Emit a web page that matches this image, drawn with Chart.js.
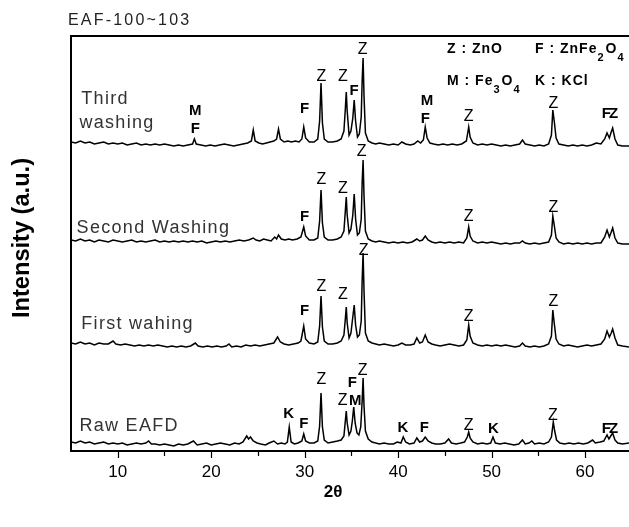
<!DOCTYPE html>
<html><head><meta charset="utf-8">
<script src="https://cdn.jsdelivr.net/npm/chart.js@4.4.1/dist/chart.umd.min.js"></script>
<style>html,body{margin:0;padding:0;background:#fff}#wrap{width:629px;height:527px;position:relative}</style>
</head><body><div id="wrap"><canvas id="c"></canvas></div>
<script>
// ---------------- data ----------------
const chartTitle = 'EAF-100~103';
const xTitle = '2\u03B8';
const yTitle = 'Intensity (a.u.)';
const xMajorTicks = [10, 20, 30, 40, 50, 60];
const xMinorTicks = [15, 25, 35, 45, 55];
const seriesNames = ['Raw EAFD', 'First wahing', 'Second Washing', 'Third washing'];

// [2theta, intensity (a.u., stacked as in the figure)]
const rawEAFD = [[5,9],[5.5,8],[6,10],[6.5,8],[7,9],[7.5,7],[8,8],[8.5,9],[9,7],[9.5,8],[10,7],[10.5,8],[11,6],[11.5,7],[12,8],[12.5,7],[13,8],[13.3,10],[13.6,7],[14,7],[14.5,6],[15,7],[15.5,6],[16,5],[16.5,7],[17,6],[17.5,7],[18.1,10],[18.5,6],[19,7],[19.5,8],[20,6],[20.5,7],[21,8],[21.5,7],[22,6],[22.5,8],[23,7],[23.4,9],[23.8,15],[24.0,12],[24.2,14],[24.5,10],[24.9,8],[25.3,7],[25.8,6],[26.2,8],[26.7,10],[27.1,7],[27.5,8],[27.9,7],[28.15,9],[28.35,24],[28.55,9],[28.9,7],[29.3,8],[29.7,10],[29.9,17],[30.1,10],[30.5,8],[31.0,8],[31.4,10],[31.6,25],[31.75,58],[31.9,24],[32.1,11],[32.5,8],[33,9],[33.5,10],[33.9,11],[34.2,15],[34.35,30],[34.45,40],[34.55,28],[34.75,16],[34.95,20],[35.1,30],[35.25,44],[35.4,28],[35.6,18],[35.8,16],[36.0,24],[36.15,50],[36.25,73],[36.35,45],[36.5,20],[36.8,12],[37.2,9],[37.6,8],[38,7],[38.5,8],[39,7],[39.5,7],[39.9,9],[40.3,8],[40.55,14],[40.8,9],[41.2,7],[41.7,8],[42.0,13],[42.3,9],[42.6,10],[42.9,14],[43.2,10],[43.6,8],[44,7],[44.5,7],[45,8],[45.4,12],[45.7,8],[46.2,7],[46.7,8],[47.1,9],[47.4,14],[47.55,19],[47.7,13],[48,9],[48.5,7],[49,8],[49.5,7],[49.9,8],[50.15,14],[50.4,8],[50.9,7],[51.4,8],[51.9,7],[52.4,6],[52.9,7],[53.3,11],[53.6,7],[54.0,8],[54.3,10],[54.6,7],[55.1,8],[55.6,7],[56.1,9],[56.4,14],[56.6,29],[56.75,20],[56.95,11],[57.3,8],[57.8,7],[58.3,8],[58.8,7],[59.3,8],[59.8,7],[60.3,8],[60.8,11],[61.1,8],[61.6,9],[62.0,10],[62.35,16],[62.55,12],[62.75,15],[62.95,18],[63.2,11],[63.5,8],[64,7],[64.7,8]];

const firstWashing = [[5,108],[5.5,107],[6,109],[6.5,107],[7,108],[7.5,106],[8,108],[8.5,107],[9,107],[9.5,110],[9.8,107],[10.3,106],[10.8,107],[11.3,106],[11.8,105],[12.3,106],[12.8,105],[13.3,106],[13.8,105],[14.3,106],[14.8,105],[15.3,104],[15.8,105],[16.3,104],[16.8,105],[17.3,104],[17.8,105],[18.3,108],[18.6,105],[19.1,104],[19.6,105],[20.1,104],[20.6,105],[21.1,104],[21.6,105],[21.9,107],[22.2,104],[22.7,105],[23.2,104],[23.7,106],[24.2,105],[24.7,106],[25.2,105],[25.7,106],[26.2,107],[26.7,108],[27.1,114],[27.4,109],[27.8,107],[28.3,106],[28.8,107],[29.3,108],[29.6,110],[29.9,125],[30.1,112],[30.5,108],[31,107],[31.4,109],[31.6,125],[31.75,155],[31.9,124],[32.1,110],[32.5,107],[33,107],[33.5,108],[33.9,110],[34.2,116],[34.35,132],[34.45,144],[34.55,128],[34.75,113],[34.95,118],[35.1,130],[35.3,146],[35.45,126],[35.65,114],[35.85,116],[36.05,130],[36.15,170],[36.25,198],[36.35,160],[36.5,118],[36.8,110],[37.2,108],[37.6,107],[38,106],[38.5,107],[39,106],[39.5,105],[40,106],[40.4,108],[40.8,106],[41.3,106],[41.7,107],[42.0,113],[42.3,108],[42.6,109],[42.9,116],[43.2,109],[43.6,107],[44,106],[44.5,105],[45,106],[45.5,107],[46,106],[46.5,105],[47,106],[47.35,111],[47.55,126],[47.7,115],[48,108],[48.5,106],[49,105],[49.5,106],[50,105],[50.5,106],[51,105],[51.5,106],[52,105],[52.5,104],[53,105],[53.3,108],[53.6,105],[54.1,104],[54.6,105],[55.1,104],[55.6,105],[56.1,107],[56.4,115],[56.55,141],[56.7,128],[56.9,112],[57.2,107],[57.7,105],[58.2,106],[58.7,105],[59.2,104],[59.7,105],[60.2,106],[60.7,105],[61.2,106],[61.7,107],[62.1,112],[62.35,120],[62.6,114],[62.8,118],[62.95,122],[63.2,113],[63.5,106],[64,105],[64.7,104]];

const secondWashing = [[5,211],[5.5,210],[6,212],[6.5,210],[7,211],[7.5,209],[8,211],[8.5,210],[9,209],[9.5,211],[10,210],[10.5,209],[11,210],[11.5,211],[12,209],[12.5,210],[13,209],[13.5,210],[14,211],[14.5,209],[15,210],[15.5,209],[16,210],[16.5,209],[17,210],[17.5,209],[18,210],[18.5,209],[19,210],[19.5,208],[20,209],[20.5,210],[21,209],[21.5,210],[22,209],[22.5,210],[23,211],[23.5,210],[24,211],[24.5,213],[24.8,211],[25.2,210],[25.6,212],[26,211],[26.4,210],[26.8,214],[27.0,212],[27.2,216],[27.5,212],[27.9,211],[28.3,212],[28.7,211],[29.2,212],[29.6,214],[29.9,224],[30.1,215],[30.5,211],[31,211],[31.4,213],[31.6,230],[31.75,261],[31.9,228],[32.1,214],[32.5,211],[33,211],[33.5,212],[33.9,214],[34.2,220],[34.35,240],[34.45,254],[34.55,236],[34.75,218],[34.95,222],[35.15,236],[35.3,257],[35.45,232],[35.65,216],[35.85,218],[36.05,232],[36.15,268],[36.25,291],[36.35,255],[36.5,220],[36.8,212],[37.2,210],[37.6,209],[38,210],[38.5,209],[39,208],[39.5,209],[40,208],[40.5,209],[41,208],[41.5,209],[42.0,212],[42.3,210],[42.6,211],[42.9,215],[43.2,211],[43.6,209],[44,208],[44.5,209],[45,208],[45.5,209],[46,208],[46.5,209],[47,208],[47.35,213],[47.55,224],[47.7,215],[48,210],[48.5,208],[49,209],[49.5,208],[50,209],[50.5,208],[51,207],[51.5,208],[52,207],[52.5,208],[53,208],[53.3,210],[53.6,208],[54.1,207],[54.6,208],[55.1,207],[55.6,208],[56.1,209],[56.4,216],[56.55,235],[56.7,226],[56.9,213],[57.2,209],[57.7,207],[58.2,208],[58.7,207],[59.2,208],[59.7,207],[60.2,208],[60.7,207],[61.2,208],[61.7,208],[62.1,214],[62.35,221],[62.6,214],[62.8,219],[62.95,223],[63.2,213],[63.5,208],[64,207],[64.7,207]];

const thirdWashing = [[5,309],[5.5,308],[6,310],[6.5,308],[7,309],[7.5,307],[8,308],[8.5,309],[9,307],[9.5,308],[10,307],[10.5,308],[11,306],[11.5,307],[12,308],[12.5,306],[13,307],[13.5,306],[14,307],[14.5,306],[15,307],[15.5,306],[16,305],[16.5,306],[17,305],[17.5,306],[18.0,307],[18.2,312],[18.4,307],[18.9,306],[19.4,305],[19.9,306],[20.4,305],[20.9,306],[21.4,307],[21.9,306],[22.4,305],[22.9,306],[23.4,307],[23.9,308],[24.3,310],[24.5,321],[24.7,310],[25.1,308],[25.5,307],[25.9,308],[26.3,309],[26.7,310],[27.0,312],[27.2,322],[27.4,312],[27.8,309],[28.2,310],[28.6,309],[29.0,310],[29.4,309],[29.7,312],[29.9,324],[30.1,313],[30.5,309],[31.0,309],[31.4,312],[31.6,330],[31.75,368],[31.9,328],[32.1,312],[32.5,309],[33,309],[33.5,310],[33.9,312],[34.2,320],[34.35,342],[34.45,359],[34.55,340],[34.75,316],[34.95,320],[35.15,333],[35.3,351],[35.45,330],[35.65,314],[35.85,317],[36.05,334],[36.15,370],[36.25,393],[36.35,355],[36.5,318],[36.8,310],[37.2,308],[37.6,307],[38,308],[38.5,307],[39,306],[39.5,307],[40,306],[40.4,309],[40.8,307],[41.3,306],[41.7,307],[42.1,310],[42.4,308],[42.7,311],[42.9,324],[43.1,313],[43.4,308],[43.8,307],[44.3,306],[44.8,307],[45.3,306],[45.8,307],[46.3,306],[46.8,307],[47.3,310],[47.55,324],[47.7,314],[48,308],[48.5,306],[49,307],[49.5,306],[50,307],[50.5,306],[51,305],[51.5,306],[52,305],[52.5,306],[53.0,307],[53.3,311],[53.6,307],[54.1,306],[54.6,305],[55.1,306],[55.6,305],[56.1,307],[56.4,316],[56.55,341],[56.7,330],[56.9,313],[57.2,307],[57.7,306],[58.2,305],[58.7,306],[59.2,305],[59.7,306],[60.2,305],[60.7,306],[61.2,308],[61.7,307],[62.1,312],[62.35,318],[62.6,313],[62.8,319],[62.95,323],[63.2,312],[63.5,306],[64,305],[64.7,305]];

// phase marks: [letter, 2theta, intensity level]
const phaseMarks = [
  ['M',18.3,340],['F',18.3,322],['F',30.0,342],['Z',31.8,374],['Z',34.1,374],['F',35.3,360],['Z',36.2,401],
  ['M',43.1,350],['F',42.9,332],['Z',47.55,334],['Z',56.6,347],['FZ',62.55,337],
  ['F',30.0,234],['Z',31.8,271],['Z',34.1,262],['Z',36.1,299],['Z',47.55,234],['Z',56.6,243],
  ['F',30.0,140],['Z',31.8,164],['Z',34.1,156],['Z',36.3,200],['Z',47.55,134],['Z',56.6,149],
  ['K',28.3,37],['F',29.9,27],['Z',31.8,71],['Z',34.07,50],['M',35.4,50],['F',35.1,68.5],['Z',36.2,80.5],
  ['K',40.5,23.5],['F',42.8,23.5],['Z',47.55,25.5],['K',50.2,22],['Z',56.55,35],['FZ',62.55,22]
];
// phase legend: [symbol, compound (digits are subscripts)]
const phaseLegend = [['Z','ZnO'],['F','ZnFe2O4'],['M','Fe3O4'],['K','KCl']];

// ---------------- chart ----------------
const FONT = "'Liberation Sans', Arial, sans-serif";
function drawRich(ctx, str, x, y, size) {
  let cx = x;
  for (const ch of str) {
    if (/[0-9]/.test(ch)) {
      ctx.font = 'bold ' + (size - 3) + 'px ' + FONT;
      ctx.fillText(ch, cx, y + 8);
      cx += ctx.measureText(ch).width + 1;
    } else {
      ctx.font = 'bold ' + size + 'px ' + FONT;
      ctx.fillText(ch, cx, y);
      cx += ctx.measureText(ch).width;
    }
  }
}

const decor = {
  id: 'decor',
  afterDraw(chart) {
    const ctx = chart.ctx, xs = chart.scales.x, ys = chart.scales.y, a = chart.chartArea;
    ctx.save();
    ctx.fillStyle = '#000'; ctx.strokeStyle = '#000';
    ctx.lineWidth = 2;
    ctx.beginPath();
    ctx.moveTo(a.left, a.bottom); ctx.lineTo(a.left, a.top); ctx.lineTo(a.right, a.top);
    ctx.stroke();
    ctx.lineWidth = 1.2;
    xMajorTicks.forEach(v => { const p = Math.round(xs.getPixelForValue(v)) + 0.5; ctx.beginPath(); ctx.moveTo(p, a.bottom); ctx.lineTo(p, a.bottom + 7); ctx.stroke(); });
    xMinorTicks.forEach(v => { const p = Math.round(xs.getPixelForValue(v)) + 0.5; ctx.beginPath(); ctx.moveTo(p, a.bottom); ctx.lineTo(p, a.bottom + 5); ctx.stroke(); });
    // title
    ctx.font = '16px ' + FONT; ctx.letterSpacing = '2.2px';
    ctx.textAlign = 'left'; ctx.textBaseline = 'alphabetic';
    ctx.fillStyle = '#222';
    ctx.fillText(chartTitle, 68, 25);
    // axis titles
    ctx.fillStyle = '#000'; ctx.letterSpacing = '0px';
    ctx.font = 'bold 17px ' + FONT; ctx.textAlign = 'center'; ctx.textBaseline = 'middle';
    ctx.fillText(xTitle, 333, 492);
    ctx.save();
    ctx.translate(23, 238); ctx.rotate(-Math.PI / 2);
    ctx.font = 'bold 23px ' + FONT;
    const w = ctx.measureText(yTitle).width;
    ctx.scale(160 / w, 1);
    ctx.fillText(yTitle, 0, 0);
    ctx.restore();
    // series names
    ctx.fillStyle = '#333'; ctx.textAlign = 'left'; ctx.textBaseline = 'alphabetic';
    ctx.font = '18px ' + FONT; ctx.letterSpacing = '1.3px';
    const nameAt = [[5.9, 20], [6.1, 122], [5.6, 218]];
    nameAt.forEach((p, i) => ctx.fillText(seriesNames[i], xs.getPixelForValue(p[0]), ys.getPixelForValue(p[1])));
    const third = seriesNames[3].split(' ');
    ctx.fillText(third[0], xs.getPixelForValue(6.1), ys.getPixelForValue(347));
    ctx.fillText(third[1], xs.getPixelForValue(5.9), ys.getPixelForValue(323));
    // phase marks
    ctx.fillStyle = '#000'; ctx.textAlign = 'center'; ctx.textBaseline = 'middle';
    phaseMarks.forEach(m => {
      const px = xs.getPixelForValue(m[1]), py = ys.getPixelForValue(m[2]);
      if (m[0] === 'Z') { ctx.font = '16px ' + FONT; ctx.letterSpacing = '0px'; }
      else if (m[0] === 'FZ') { ctx.font = 'bold 15px ' + FONT; ctx.letterSpacing = '-2px'; }
      else { ctx.font = 'bold 15px ' + FONT; ctx.letterSpacing = '0px'; }
      ctx.fillText(m[0], px, py);
    });
    // legend
    ctx.textAlign = 'left'; ctx.textBaseline = 'alphabetic'; ctx.letterSpacing = '1px';
    const legPos = [[447, 53], [535, 53], [447, 85], [535, 85]];
    phaseLegend.forEach((l, i) => drawRich(ctx, l[0] + ' : ' + l[1], legPos[i][0], legPos[i][1], 14));
    ctx.restore();
  }
};

const mk = arr => arr.map(p => ({ x: p[0], y: p[1] }));
const series = [rawEAFD, firstWashing, secondWashing, thirdWashing];

new Chart(document.getElementById('c'), {
  type: 'line',
  data: {
    datasets: series.map((s, i) => ({
      label: seriesNames[i], data: mk(s), borderColor: '#000', borderWidth: 1.5,
      pointRadius: 0, tension: 0, fill: false
    }))
  },
  options: {
    responsive: true, maintainAspectRatio: false, animation: false,
    layout: { padding: { left: 71, top: 36, right: 0, bottom: 0 } },
    plugins: { legend: { display: false }, tooltip: { enabled: false } },
    scales: {
      x: {
        type: 'linear', min: 5, max: 64.7,
        afterBuildTicks: s => { s.ticks = xMajorTicks.map(v => ({ value: v })); },
        afterFit: s => { s.height = 76; },
        border: { display: true, color: '#000', width: 2 },
        grid: { display: true, drawOnChartArea: false, drawTicks: true, tickLength: 7, color: 'rgba(0,0,0,0)' },
        ticks: { color: '#000', font: { size: 17, family: FONT }, padding: 4, maxRotation: 0, autoSkip: false }
      },
      y: { type: 'linear', display: false, min: 0, max: 415 }
    }
  },
  plugins: [decor]
});
</script>
</body></html>
